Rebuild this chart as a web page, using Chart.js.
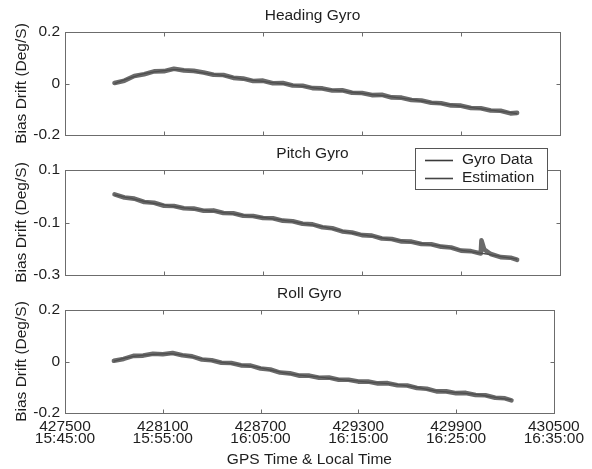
<!DOCTYPE html>
<html>
<head>
<meta charset="utf-8">
<script src="https://cdn.jsdelivr.net/npm/chart.js@4"></script>
<style>
  html, body { margin: 0; padding: 0; background: #fff; }
  #wrap { position: relative; width: 592px; height: 469px; overflow: hidden; }
  .panel { position: absolute; left: 0; }
</style>
</head>
<body>
<div id="wrap">
  <canvas id="heading" class="panel" width="592" height="150" style="top:0px"></canvas>
  <canvas id="pitch" class="panel" width="592" height="150" style="top:140px"></canvas>
  <canvas id="roll" class="panel" width="592" height="189" style="top:280px"></canvas>
</div>
<script>
// GPS time of week (s) for each logged sample
const gpsTime = [427800, 427860, 427920, 427980, 428040, 428100, 428160, 428220, 428280, 428340,
                 428400, 428460, 428520, 428580, 428640, 428700, 428760, 428820, 428880, 428940,
                 429000, 429060, 429120, 429180, 429240, 429300, 429360, 429420, 429480, 429540,
                 429600, 429660, 429720, 429780, 429840, 429900, 429960, 430020, 430080, 430140,
                 430200, 430240];

// Heading gyro bias drift (deg/s)
const headingGyro = [0.002, 0.011, 0.029, 0.036, 0.047, 0.048, 0.057, 0.051, 0.049, 0.043,
                     0.034, 0.033, 0.022, 0.019, 0.010, 0.011, 0.001, 0.002, -0.008, -0.009,
                     -0.018, -0.019, -0.027, -0.026, -0.036, -0.037, -0.045, -0.044, -0.054, -0.055,
                     -0.064, -0.066, -0.075, -0.077, -0.085, -0.086, -0.095, -0.096, -0.105, -0.106,
                     -0.116, -0.114];
const headingEst = [0.000, 0.014, 0.027, 0.038, 0.045, 0.050, 0.054, 0.053, 0.048, 0.041,
                    0.036, 0.031, 0.024, 0.017, 0.012, 0.008, 0.003, -0.001, -0.006, -0.011,
                    -0.016, -0.021, -0.025, -0.029, -0.034, -0.038, -0.043, -0.047, -0.052, -0.057,
                    -0.062, -0.068, -0.073, -0.079, -0.083, -0.088, -0.093, -0.098, -0.103, -0.108,
                    -0.113, -0.117];

// Pitch gyro bias drift (deg/s)
const pitchGyro = [0.007, -0.005, -0.009, -0.022, -0.025, -0.036, -0.037, -0.046, -0.047, -0.055,
                   -0.054, -0.064, -0.065, -0.074, -0.075, -0.083, -0.084, -0.093, -0.095, -0.105,
                   -0.107, -0.118, -0.122, -0.134, -0.138, -0.148, -0.150, -0.161, -0.163, -0.172,
                   -0.173, -0.182, -0.183, -0.192, -0.195, -0.207, -0.209, -0.218, -0.220, -0.232,
                   -0.234, -0.242];
// short transient recorded by the pitch gyro
const pitchTransientTime = [430024, 430040];
const pitchTransientValue = [-0.168, -0.202];
const pitchEst = [0.005, -0.003, -0.011, -0.020, -0.027, -0.033, -0.039, -0.044, -0.049, -0.053,
                  -0.057, -0.062, -0.067, -0.072, -0.077, -0.081, -0.086, -0.091, -0.097, -0.103,
                  -0.109, -0.116, -0.124, -0.132, -0.140, -0.146, -0.152, -0.159, -0.165, -0.170,
                  -0.175, -0.180, -0.185, -0.190, -0.197, -0.205, -0.211, -0.217, -0.222, -0.230,
                  -0.236, -0.240];

// Roll gyro bias drift (deg/s)
const rollGyro = [0.003, 0.010, 0.022, 0.023, 0.030, 0.028, 0.033, 0.024, 0.020, 0.008,
                  0.005, -0.005, -0.006, -0.015, -0.016, -0.027, -0.031, -0.043, -0.046, -0.055,
                  -0.055, -0.063, -0.062, -0.071, -0.071, -0.078, -0.078, -0.085, -0.084, -0.092,
                  -0.093, -0.103, -0.106, -0.116, -0.116, -0.123, -0.122, -0.130, -0.131, -0.141,
                  -0.143, -0.151];
const rollEst = [0.001, 0.012, 0.020, 0.025, 0.028, 0.030, 0.030, 0.026, 0.018, 0.010,
                 0.003, -0.003, -0.008, -0.013, -0.018, -0.025, -0.033, -0.041, -0.048, -0.053,
                 -0.057, -0.061, -0.065, -0.069, -0.073, -0.076, -0.080, -0.083, -0.086, -0.090,
                 -0.095, -0.101, -0.108, -0.114, -0.118, -0.121, -0.124, -0.128, -0.133, -0.139,
                 -0.145, -0.148];

// Axis ticks
const xTickGps = [427500, 428100, 428700, 429300, 429900, 430500];
const xTickLocal = ['15:45:00', '15:55:00', '16:05:00', '16:15:00', '16:25:00', '16:35:00'];
const headingTicks = [-0.2, 0, 0.2];
const headingTickLabels = ['-0.2', '0', '0.2'];
const pitchTicks = [-0.3, -0.1, 0.1];
const pitchTickLabels = ['-0.3', '-0.1', '0.1'];
const rollTicks = [-0.2, 0, 0.2];
const rollTickLabels = ['-0.2', '0', '0.2'];

const seriesNames = ['Gyro Data', 'Estimation'];
const panelTitles = ['Heading Gyro', 'Pitch Gyro', 'Roll Gyro'];
const yAxisTitle = 'Bias Drift (Deg/S)';
const xAxisTitle = 'GPS Time & Local Time';

const FONT = "'Liberation Sans', Arial, Helvetica, sans-serif";
const TEXT = '#1e1e1e';
const GYRO_COLOR = '#6a6a6a';
const EST_COLOR = '#4e4e4e';
Chart.defaults.font.family = FONT;
Chart.defaults.color = TEXT;

function toPoints(xs, ys) {
  return xs.map((x, i) => ({ x: x, y: ys[i] }));
}

// Box around the plot area with inward tick marks on all four sides
const framePlugin = {
  id: 'frame',
  afterDatasetsDraw(chart) {
    const { ctx, chartArea: a, scales } = chart;
    const L = Math.round(a.left) + 0.5, R = Math.round(a.right) + 0.5;
    const T = Math.round(a.top) + 0.5, B = Math.round(a.bottom) + 0.5;
    ctx.save();
    ctx.strokeStyle = '#6c6c6c';
    ctx.lineWidth = 1;
    ctx.strokeRect(L, T, R - L, B - T);
    ctx.beginPath();
    xTickGps.slice(1, -1).forEach(v => {
      const px = Math.round(scales.x.getPixelForValue(v)) + 0.5;
      ctx.moveTo(px, T); ctx.lineTo(px, T + 4);
      ctx.moveTo(px, B); ctx.lineTo(px, B - 4);
    });
    scales.y.ticks.slice(1, -1).forEach(t => {
      const py = Math.round(scales.y.getPixelForValue(t.value)) + 0.5;
      ctx.moveTo(L, py); ctx.lineTo(L + 4, py);
      ctx.moveTo(R, py); ctx.lineTo(R - 4, py);
    });
    ctx.stroke();
    ctx.restore();
  }
};

// Panel heading above each plot area
const panelTitlePlugin = {
  id: 'panelTitle',
  afterDraw(chart, args, opts) {
    const { ctx, chartArea: a } = chart;
    ctx.save();
    ctx.font = '15.5px ' + FONT;
    ctx.fillStyle = TEXT;
    ctx.textAlign = 'center';
    ctx.textBaseline = 'alphabetic';
    ctx.fillText(opts.text, (a.left + a.right) / 2, a.top - 12);
    ctx.restore();
  }
};

// Boxed legend sitting over the top edge of the pitch panel
const boxLegendPlugin = {
  id: 'boxLegend',
  afterDraw(chart) {
    const { ctx, chartArea: a } = chart;
    const right = a.right - 13, top = a.top - 22;
    const w = 132, h = 41;
    const left = right - w;
    ctx.save();
    ctx.fillStyle = '#fff';
    ctx.fillRect(left, top, w, h);
    ctx.strokeStyle = '#555';
    ctx.lineWidth = 1;
    ctx.strokeRect(Math.round(left) + 0.5, Math.round(top) + 0.5, w, h);
    ctx.font = '15.5px ' + FONT;
    ctx.textBaseline = 'middle';
    ctx.textAlign = 'left';
    seriesNames.forEach((name, i) => {
      const ds = chart.data.datasets.find(d => d.label === name);
      const y = top + 12 + i * 18;
      ctx.strokeStyle = i === 0 ? '#3a3a3a' : '#454545';
      ctx.lineWidth = 1.6;
      ctx.beginPath();
      ctx.moveTo(left + 10, y + 0.5);
      ctx.lineTo(left + 38, y + 0.5);
      ctx.stroke();
      ctx.fillStyle = TEXT;
      ctx.fillText(ds ? ds.label : name, left + 47, y);
    });
    ctx.restore();
  }
};

function makePanel(canvasId, gyroPts, estPts, ticks, tickLabels, title, opts) {
  const bottomAxis = opts.bottomAxis;
  return new Chart(document.getElementById(canvasId), {
    type: 'line',
    data: {
      datasets: [
        {
          label: seriesNames[0],
          data: gyroPts,
          borderColor: GYRO_COLOR,
          borderWidth: 4.6,
          borderJoinStyle: 'round',
          borderCapStyle: 'round',
          pointRadius: 0,
          tension: 0,
          order: 1
        },
        {
          label: seriesNames[1],
          data: estPts,
          borderColor: EST_COLOR,
          borderWidth: 1.3,
          borderJoinStyle: 'round',
          pointRadius: 0,
          tension: 0.3,
          order: 0
        }
      ]
    },
    options: {
      responsive: false,
      animation: false,
      devicePixelRatio: 1,
      layout: { padding: { left: 0, right: 32, top: opts.padTop, bottom: bottomAxis ? 0 : 15 } },
      plugins: {
        legend: { display: false },
        tooltip: { enabled: false },
        panelTitle: { text: title }
      },
      scales: {
        x: {
          type: 'linear',
          display: bottomAxis,
          min: 427500,
          max: 430500,
          afterBuildTicks: s => { s.ticks = xTickGps.map(v => ({ value: v })); },
          afterFit: s => { if (bottomAxis) s.height = 56; },
          grid: { display: false, drawTicks: false },
          border: { display: false },
          ticks: {
            padding: 8,
            maxRotation: 0,
            autoSkip: false,
            color: TEXT,
            font: { size: 15.5, lineHeight: '12px' },
            callback: (v, i) => [String(xTickGps[i]), xTickLocal[i]]
          },
          title: {
            display: true,
            text: xAxisTitle,
            color: TEXT,
            font: { size: 15.5, lineHeight: 1.2 },
            padding: { top: 0, bottom: 0 }
          }
        },
        y: {
          min: ticks[0],
          max: ticks[ticks.length - 1],
          afterBuildTicks: s => { s.ticks = ticks.map(v => ({ value: v })); },
          afterFit: s => { s.width = 65; },
          grid: { display: false, drawTicks: false },
          border: { display: false },
          ticks: {
            padding: 5,
            color: TEXT,
            font: { size: 15.5 },
            callback: (v, i) => tickLabels[i]
          },
          title: {
            display: true,
            text: yAxisTitle,
            color: TEXT,
            font: { size: 15.5, lineHeight: 1.2 },
            padding: { top: 12, bottom: 0 }
          }
        }
      }
    },
    plugins: [framePlugin, panelTitlePlugin].concat(opts.extraPlugins || [])
  });
}

// Pitch gyro samples including the transient, in time order
const pitchGyroPts = toPoints(gpsTime, pitchGyro)
  .concat(toPoints(pitchTransientTime, pitchTransientValue))
  .sort((a, b) => a.x - b.x);

makePanel('heading', toPoints(gpsTime, headingGyro), toPoints(gpsTime, headingEst),
  headingTicks, headingTickLabels, panelTitles[0], { padTop: 32, bottomAxis: false });
makePanel('pitch', pitchGyroPts, toPoints(gpsTime, pitchEst),
  pitchTicks, pitchTickLabels, panelTitles[1], { padTop: 30, bottomAxis: false, extraPlugins: [boxLegendPlugin] });
makePanel('roll', toPoints(gpsTime, rollGyro), toPoints(gpsTime, rollEst),
  rollTicks, rollTickLabels, panelTitles[2], { padTop: 30, bottomAxis: true });
</script>
</body>
</html>
